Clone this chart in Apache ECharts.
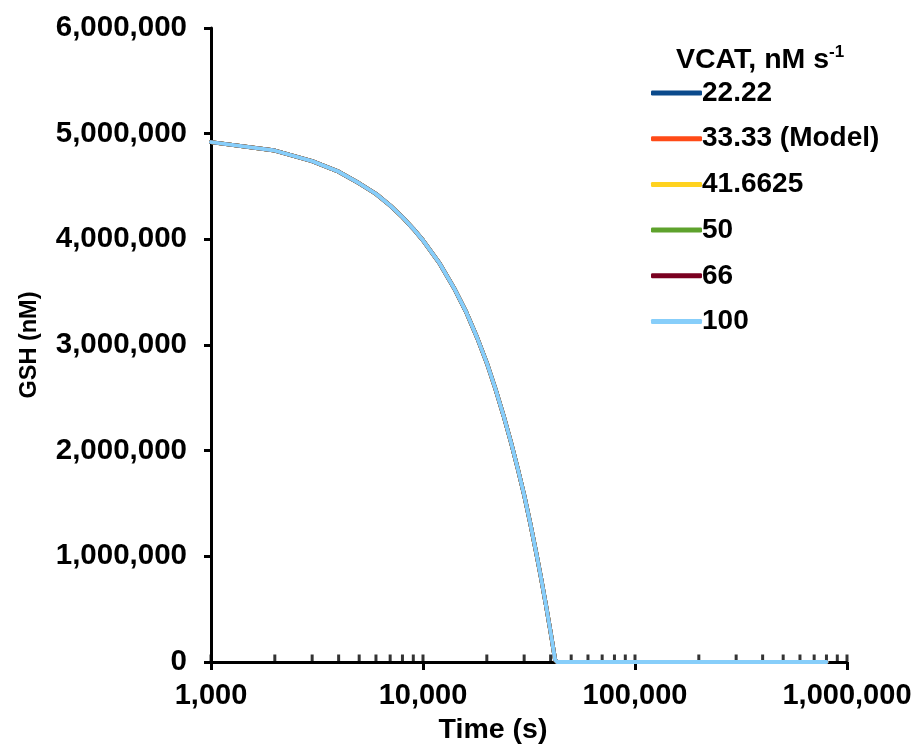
<!DOCTYPE html>
<html>
<head>
<meta charset="utf-8">
<script src="https://cdn.jsdelivr.net/npm/echarts@6/dist/echarts.min.js"></script>
<style>
  html, body { margin: 0; padding: 0; background: #fff; }
  #chart { width: 912px; height: 745px; }
</style>
</head>
<body>
<div id="chart"></div>
<script>
// Time points (s) and simulated GSH concentration (nM)
const timeS = [1000, 2000, 3000, 4000, 5000, 6000, 7000, 8000, 9000, 10000,
  12000, 14000, 16000, 18000, 20000, 22000, 24000, 26000, 28000, 30000,
  32000, 34000, 36000, 38000, 40000, 42000, 43000, 50000, 100000, 200000,
  300000, 400000, 500000, 600000, 700000, 800000];

const gshCurve = [4920000, 4840000, 4740000, 4640000, 4530000, 4430000, 4320000, 4210000, 4100000, 3990000,
  3770000, 3540000, 3310000, 3070000, 2830000, 2580000, 2330000, 2080000, 1830000, 1580000,
  1320000, 1060000, 800000, 540000, 280000, 20000, 0, 0, 0, 0,
  0, 0, 0, 0, 0, 0];

// VCAT values (nM s-1) and the GSH trace for each
const vcatNames = ['22.22', '33.33 (Model)', '41.6625', '50', '66', '100'];
const vcatColors = ['#0B4A8C', '#FF4A17', '#FFD21F', '#5EA22C', '#7A0020', '#87CEFA'];
const vcatValues = [gshCurve, gshCurve, gshCurve, gshCurve, gshCurve, gshCurve];

// Tick positions on the log time axis (inner tick marks)
const timeTicks = [1000, 2000, 3000, 4000, 5000, 6000, 7000, 8000, 9000,
  10000, 20000, 30000, 40000, 50000, 60000, 70000, 80000, 90000,
  100000, 200000, 300000, 400000, 500000, 600000, 700000, 800000, 900000, 1000000];

const fontFam = '"Liberation Sans", Arial, sans-serif';
const fmt = v => Math.round(v).toLocaleString('en-US');

const chart = echarts.init(document.getElementById('chart'), null, { renderer: 'canvas' });

const lineSeries = vcatNames.map((name, i) => ({
  name: name,
  type: 'line',
  data: timeS.map((t, k) => [t, vcatValues[i][k]]),
  showSymbol: false,
  smooth: false,
  lineStyle: { width: 4, color: vcatColors[i], cap: 'round', join: 'round' },
  itemStyle: { color: vcatColors[i] },
  z: 3 + i
}));

chart.setOption({
  animation: false,
  backgroundColor: '#fff',
  title: {
    left: 671,
    top: 38,
    text: '{a|VCAT, nM s}{b|-1}',
    textStyle: {
      rich: {
        a: { fontFamily: fontFam, fontWeight: 'bold', fontSize: 28.5, color: '#000', lineHeight: 34 },
        b: { fontFamily: fontFam, fontWeight: 'bold', fontSize: 17, color: '#000', lineHeight: 34, padding: [0, 0, 15, 0] }
      }
    }
  },
  legend: {
    orient: 'vertical',
    left: 646,
    top: 73,
    itemWidth: 51,
    itemHeight: 5,
    itemGap: 15.7,
    icon: 'roundRect',
    data: vcatNames,
    textStyle: { fontFamily: fontFam, fontWeight: 'bold', fontSize: 28, color: '#000', lineHeight: 30, padding: [0, 0, 0, -5] }
  },
  grid: { left: 211, right: 65, top: 28, bottom: 83, containLabel: false, outerBoundsMode: 'none' },
  xAxis: {
    type: 'log',
    logBase: 10,
    min: 1000,
    max: 1000000,
    name: 'Time (s)',
    nameLocation: 'middle',
    nameGap: 54,
    nameTextStyle: { fontFamily: fontFam, fontWeight: 'bold', fontSize: 28.5, color: '#000', padding: [0, 72, 0, 0] },
    axisLine: { lineStyle: { color: '#000', width: 3 } },
    axisTick: { show: true, length: 8, lineStyle: { color: '#000', width: 3 } },
    axisLabel: { fontFamily: fontFam, fontWeight: 'bold', fontSize: 29, color: '#000', margin: 19, formatter: fmt },
    splitLine: { show: false },
    minorTick: { show: false }
  },
  yAxis: {
    type: 'value',
    min: 0,
    max: 6000000,
    interval: 1000000,
    name: 'GSH (nM)',
    nameLocation: 'middle',
    nameGap: 169,
    nameTextStyle: { fontFamily: fontFam, fontWeight: 'bold', fontSize: 23.5, color: '#000' },
    axisLine: { show: true, lineStyle: { color: '#000', width: 3 } },
    axisTick: { show: true, length: 7, lineStyle: { color: '#000', width: 3 } },
    axisLabel: { fontFamily: fontFam, fontWeight: 'bold', fontSize: 29.5, color: '#000', margin: 24, formatter: fmt },
    splitLine: { show: false }
  },
  series: [
    {
      name: 'ticks',
      type: 'scatter',
      data: timeTicks.map(t => [t, 0]),
      symbol: 'rect',
      symbolSize: [3, 7],
      symbolOffset: [0, -4],
      itemStyle: { color: '#000' },
      silent: true,
      clip: false,
      z: 1
    }
  ].concat(lineSeries)
});
</script>
</body>
</html>
